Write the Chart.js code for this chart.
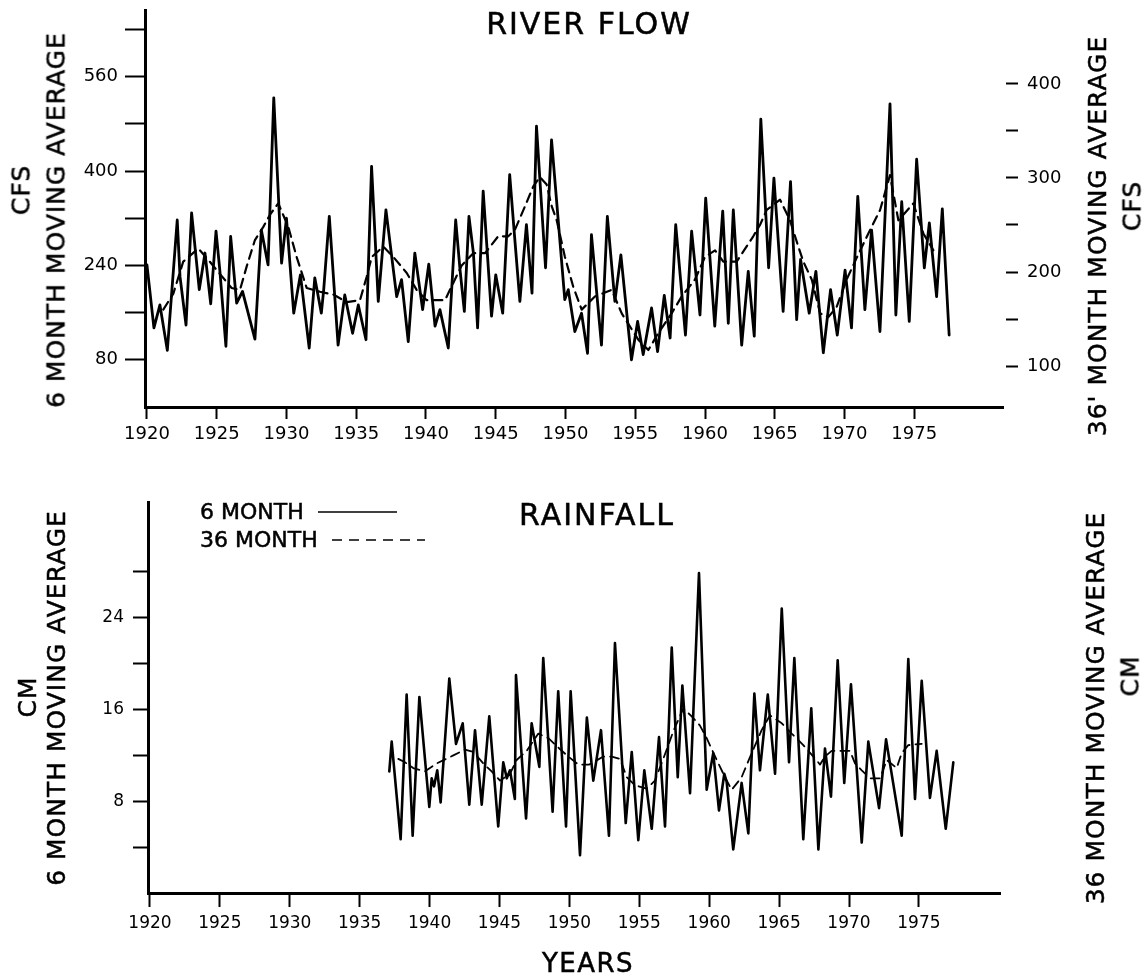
<!DOCTYPE html>
<html><head><meta charset="utf-8">
<script src="https://cdn.jsdelivr.net/npm/chart.js@4"></script>
<style>
html,body{margin:0;padding:0;background:#fff;}
#wrap{position:relative;width:1147px;height:978px;overflow:hidden;font-family:"DejaVu Sans",sans-serif;color:#000;}
canvas{position:absolute;left:0;}
.t{position:absolute;white-space:nowrap;line-height:1;-webkit-text-stroke:0.5px #000;}
.rot{transform:translate(-50%,-50%) rotate(-90deg);}
.ctr{transform:translate(-50%,-50%);}
</style></head>
<body><div id="wrap">
<canvas id="c1" width="1147" height="470" style="top:0"></canvas>
<canvas id="c2" width="1147" height="508" style="top:470px"></canvas>

<div class="t ctr" style="left:589px;top:24px;font-size:30px;letter-spacing:2px">RIVER FLOW</div>
<div class="t rot" style="left:21px;top:190px;font-size:25px;letter-spacing:1px">CFS</div>
<div class="t rot" style="left:56px;top:220px;font-size:25px;letter-spacing:1px">6 MONTH MOVING AVERAGE</div>
<div class="t rot" style="left:1097px;top:236px;font-size:25px;letter-spacing:1px">36' MONTH MOVING AVERAGE</div>
<div class="t rot" style="left:1132px;top:206px;font-size:25px;letter-spacing:1px">CFS</div>

<div class="t ctr" style="left:597px;top:515px;font-size:30px;letter-spacing:2px">RAINFALL</div>
<div class="t rot" style="left:27px;top:697px;font-size:25px;letter-spacing:1px">CM</div>
<div class="t rot" style="left:56px;top:698px;font-size:25px;letter-spacing:1px">6 MONTH MOVING AVERAGE</div>
<div class="t rot" style="left:1095px;top:708px;font-size:25px;letter-spacing:1px">36 MONTH MOVING AVERAGE</div>
<div class="t rot" style="left:1130px;top:676px;font-size:25px;letter-spacing:1px">CM</div>
<div class="t ctr" style="left:588px;top:963px;font-size:26px;letter-spacing:1.5px">YEARS</div>

<div class="t" style="left:200px;top:501px;font-size:22px;">6 MONTH</div>
<div class="t" style="left:200px;top:529px;font-size:22px;">36 MONTH</div>
<svg style="position:absolute;left:0;top:0" width="1147" height="978">
  <line x1="318" y1="512" x2="397" y2="512" stroke="#000" stroke-width="1.6"/>
  <line x1="332" y1="540" x2="425" y2="540" stroke="#000" stroke-width="1.6" stroke-dasharray="10,7"/>
</svg>
</div>
<script>
// ---------- data ----------
const xTickYears = [1920,1925,1930,1935,1940,1945,1950,1955,1960,1965,1970,1975];

const flowTicksLeft = [80,160,240,320,400,480,560,640];
const flowLabelsLeft = [80,240,400,560];
const flowTicksRight = [100,150,200,250,300,350,400];
const flowLabelsRight = [100,200,300,400];

const flowYears = [1920.0,1920.5,1920.93,1921.46,1922.17,1922.37,1922.8,1923.2,1923.75,1924.16,
  1924.57,1924.95,1925.23,1925.66,1926.0,1926.43,1926.85,1927.74,1928.2,1928.68,
  1929.09,1929.65,1930.0,1930.52,1931.0,1931.63,1932.03,1932.5,1932.67,1933.07,
  1933.7,1934.18,1934.74,1935.15,1935.7,1936.1,1936.58,1937.13,1937.9,1938.25,
  1938.73,1939.2,1939.76,1940.2,1940.65,1941.0,1941.6,1942.13,1942.44,1942.75,
  1943.08,1943.4,1943.7,1944.1,1944.7,1945.0,1945.5,1946.0,1946.33,1946.73,
  1947.2,1947.6,1947.92,1948.57,1949.0,1949.95,1950.2,1950.67,1951.15,1951.58,
  1951.86,1952.58,1953.0,1953.54,1953.97,1954.73,1955.17,1955.57,1956.17,1956.6,
  1957.08,1957.5,1957.9,1958.6,1959.04,1959.64,1960.05,1960.7,1961.27,1961.67,
  1962.03,1962.63,1963.1,1963.53,1964.0,1964.56,1964.94,1965.6,1966.13,1966.57,
  1966.85,1967.47,1967.95,1968.48,1969.0,1969.48,1970.04,1970.5,1970.95,1971.46,
  1971.94,1972.54,1973.26,1973.68,1974.1,1974.64,1975.17,1975.72,1976.08,1976.6,
  1977.01,1977.5];
const flow6 = [241,134,173,96,317,221,139,329,199,261,
  175,298,230,103,289,176,196,115,300,241,
  524,244,320,159,224,100,219,159,199,323,
  105,190,125,173,114,408,179,334,187,216,
  111,261,165,242,137,165,100,317,233,162,
  323,261,134,366,154,224,159,394,295,179,
  309,193,476,236,453,182,199,128,159,91,
  292,105,323,179,258,80,145,89,168,94,
  189,117,309,122,298,156,354,137,332,142,
  334,105,230,120,488,236,388,162,382,148,
  250,159,230,92,199,122,232,134,357,165,
  300,128,514,156,348,145,420,236,312,187,
  336,122];

const flow36Years = [1921.17,1921.89,1922.6,1923.68,1924.28,1925.11,1926.07,1926.67,1927.15,1927.74,
  1928.34,1928.82,1929.41,1930.13,1930.73,1931.45,1932.4,1933.36,1934.32,1935.27,
  1935.75,1936.11,1936.94,1937.66,1938.62,1939.33,1940.05,1941.36,1942.56,1943.39,
  1944.23,1945.18,1945.9,1946.38,1947.1,1947.69,1948.17,1948.65,1949.01,1949.37,
  1949.96,1950.56,1951.16,1952.11,1953.31,1954.03,1955.22,1955.94,1956.65,1957.61,
  1958.33,1959.28,1960.0,1960.72,1961.31,1962.27,1962.75,1963.46,1963.94,1964.42,
  1965.38,1966.09,1966.69,1967.05,1967.65,1968.26,1968.84,1969.44,1970.15,1970.87,
  1971.71,1972.55,1973.26,1973.86,1974.93,1975.65,1976.37];
const flow36 = [160,177,211,225,215,200,183,181,206,234,
  248,261,273,248,216,183,179,176,168,170,
  195,216,227,216,199,181,170,170,207,220,
  220,238,238,245,270,291,301,293,270,255,
  216,184,160,174,181,156,128,117,135,156,
  174,192,216,223,211,211,222,238,250,266,
  277,255,227,211,192,156,152,163,192,215,
  241,266,303,255,273,241,223];

const rainTicksLeft = [4,8,12,16,20,24,28];
const rainLabelsLeft = [8,16,24];

const rainYears = [1937.12,1937.29,1937.93,1938.36,1938.79,1939.27,1939.98,1940.15,1940.32,1940.55,
  1940.79,1941.41,1941.89,1942.37,1942.84,1943.25,1943.73,1944.27,1944.91,1945.27,
  1945.52,1945.75,1946.1,1946.18,1946.9,1947.3,1947.85,1948.13,1948.8,1949.2,
  1949.76,1950.09,1950.76,1951.25,1951.71,1952.26,1952.83,1953.26,1954.03,1954.46,
  1954.93,1955.36,1955.89,1956.41,1956.84,1957.32,1957.75,1958.08,1958.63,1959.27,
  1959.82,1960.29,1960.7,1961.08,1961.25,1961.72,1962.32,1962.8,1963.23,1963.63,
  1964.19,1964.71,1965.19,1965.71,1966.09,1966.73,1967.3,1967.81,1968.28,1968.71,
  1969.19,1969.66,1970.14,1970.91,1971.38,1972.15,1972.65,1973.77,1974.24,1974.72,
  1975.2,1975.79,1976.27,1976.92,1977.46];
const rain6 = [10.6,13.2,4.7,17.3,5.0,17.1,7.5,10.0,9.3,10.7,
  7.9,18.7,13.0,14.8,7.7,14.2,7.7,15.4,5.8,11.4,
  10.0,10.7,8.2,19.0,6.5,14.8,11.0,20.5,7.1,17.6,
  5.8,17.6,3.3,15.3,9.8,14.2,5.0,21.8,6.1,12.3,
  4.6,10.7,5.6,13.6,5.8,21.4,10.1,18.1,8.7,27.9,
  9.0,12.2,7.2,10.4,9.7,3.8,9.6,5.2,17.4,10.7,
  17.3,10.4,24.8,11.4,20.5,4.7,16.1,3.8,12.6,8.4,
  20.3,9.6,18.2,4.4,13.2,7.4,13.4,5.0,20.4,8.2,
  18.5,8.3,12.4,5.6,11.4];

const rain36Years = [1937.76,1938.24,1938.83,1939.67,1940.51,1941.7,1942.53,1943.13,1943.84,1944.44,
  1945.04,1945.75,1946.23,1946.95,1947.78,1948.5,1949.28,1949.92,1950.64,1951.42,
  1952.43,1953.03,1953.62,1954.1,1954.69,1955.53,1956.12,1956.96,1957.43,1958.15,
  1958.75,1959.34,1959.82,1960.54,1961.13,1961.61,1962.32,1963.04,1963.75,1964.35,
  1965.19,1965.9,1966.73,1967.45,1967.93,1968.28,1968.76,1970.07,1970.43,1970.91,
  1971.5,1972.22,1972.7,1973.41,1973.77,1974.24,1975.2];
const rain36 = [11.7,11.4,10.9,10.6,11.3,12.0,12.5,12.3,11.3,10.6,
  9.8,10.4,11.6,12.4,13.9,13.5,12.6,11.9,11.2,11.2,
  11.9,11.9,11.7,10.1,9.4,9.1,9.8,12.5,14.1,16.1,
  15.4,14.6,13.5,11.6,10.1,9.0,10.1,12.2,14.2,15.5,
  14.8,13.9,12.9,11.9,11.2,11.9,12.4,12.4,11.3,10.7,
  10.0,10.0,11.6,10.9,12.2,12.9,13.0];

// ---------- helpers ----------
const FONT = '"DejaVu Sans", sans-serif';
const pts = (xs, ys) => xs.map((x, i) => ({x: x, y: ys[i]}));
const setTicks = arr => scale => { scale.ticks = arr.map(v => ({value: v})); };
const noPad = s => { s.paddingTop = 0; s.paddingBottom = 0; s.paddingLeft = 0; s.paddingRight = 0; };

const baseOpts = {
  responsive: false,
  animation: false,
  events: [],
  plugins: {legend: {display: false}, tooltip: {enabled: false}, title: {display: false}},
  elements: {point: {radius: 0}, line: {tension: 0, borderJoinStyle: 'round', borderCapStyle: 'round'}}
};

function xScale(min, max, fit, tickLen, pad, size) {
  return {
    type: 'linear', position: 'bottom', min: min, max: max,
    border: {display: true, color: '#000', width: 3},
    grid: {drawOnChartArea: false, drawTicks: true, tickLength: tickLen, tickWidth: 2, tickColor: '#000'},
    ticks: {autoSkip: false, maxRotation: 0, padding: pad, color: '#000',
      font: {family: FONT, size: size}, callback: v => String(v)},
    afterBuildTicks: setTicks(xTickYears),
    afterFit: s => { s.height = fit; noPad(s); }
  };
}

// ---------- River flow ----------
new Chart(document.getElementById('c1'), {
  type: 'line',
  data: {datasets: [
    {label: '6 MONTH', data: pts(flowYears, flow6), borderColor: '#000', borderWidth: 2.8, yAxisID: 'y', xAxisID: 'x'},
    {label: '36 MONTH', data: pts(flow36Years, flow36), borderColor: '#000', borderWidth: 2.2, borderDash: [9, 6], yAxisID: 'y1', xAxisID: 'x'}
  ]},
  options: Object.assign({}, baseOpts, {
    layout: {padding: {top: 10, left: 0, right: 0, bottom: 0}},
    scales: {
      x: xScale(1919.86, 1981.36, 63, 12, 5, 18),
      y: {
        type: 'linear', position: 'left', min: 0, max: 673,
        border: {display: true, color: '#000', width: 3},
        grid: {drawOnChartArea: false, drawTicks: true, tickLength: 20, tickWidth: 2, tickColor: '#000'},
        ticks: {autoSkip: false, padding: 7, color: '#000', font: {family: FONT, size: 18},
          callback: v => flowLabelsLeft.includes(v) ? String(v) : ''},
        afterBuildTicks: setTicks(flowTicksLeft),
        afterFit: s => { s.width = 145; noPad(s); }
      },
      y1: {
        type: 'linear', position: 'right', min: 56.4, max: 478.7,
        border: {display: false},
        grid: {drawOnChartArea: false, drawTicks: true, tickLength: 15, tickWidth: 2, tickColor: '#000',
          tickBorderDash: [12, 3], tickBorderDashOffset: 12},
        ticks: {autoSkip: false, padding: 9, color: '#000', font: {family: FONT, size: 18},
          callback: v => flowLabelsRight.includes(v) ? String(v) : ''},
        afterBuildTicks: setTicks(flowTicksRight),
        afterFit: s => { s.width = 144; noPad(s); }
      }
    }
  })
});

// ---------- Rainfall ----------
new Chart(document.getElementById('c2'), {
  type: 'line',
  data: {datasets: [
    {label: '6 MONTH', data: pts(rainYears, rain6), borderColor: '#000', borderWidth: 2.6, yAxisID: 'y', xAxisID: 'x'},
    {label: '36 MONTH', data: pts(rain36Years, rain36), borderColor: '#000', borderWidth: 1.8, borderDash: [9, 6], yAxisID: 'y', xAxisID: 'x'}
  ]},
  options: Object.assign({}, baseOpts, {
    layout: {padding: {top: 32, left: 0, right: 147, bottom: 0}},
    scales: {
      x: xScale(1919.86, 1980.8, 85, 14, 6, 17),
      y: {
        type: 'linear', position: 'left', min: 0, max: 34.1,
        border: {display: true, color: '#000', width: 3},
        grid: {drawOnChartArea: false, drawTicks: true, tickLength: 15, tickWidth: 2, tickColor: '#000'},
        ticks: {autoSkip: false, padding: 9, color: '#000', font: {family: FONT, size: 17},
          callback: v => rainLabelsLeft.includes(v) ? String(v) : ''},
        afterBuildTicks: setTicks(rainTicksLeft),
        afterFit: s => { s.width = 148; noPad(s); }
      }
    }
  })
});
</script>
</body></html>
